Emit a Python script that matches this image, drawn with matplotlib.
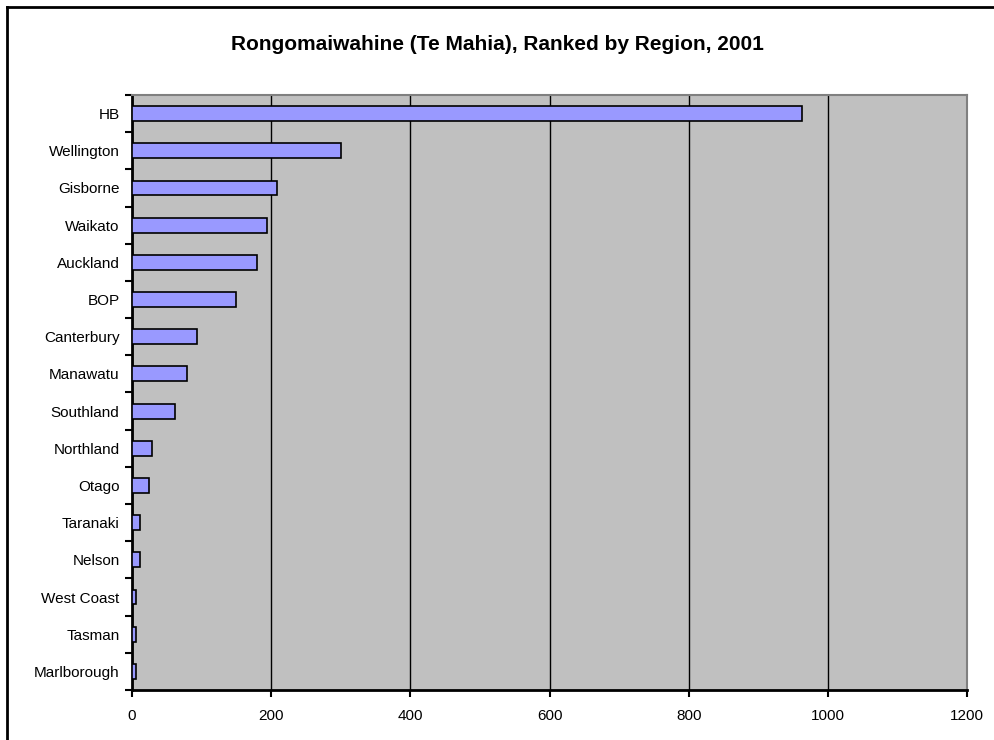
import matplotlib.pyplot as plt
from matplotlib.lines import Line2D

# Data
regions = ['HB', 'Wellington', 'Gisborne', 'Waikato', 'Auckland', 'BOP',
           'Canterbury', 'Manawatu', 'Southland', 'Northland', 'Otago',
           'Taranaki', 'Nelson', 'West Coast', 'Tasman', 'Marlborough']
counts = [963, 300, 208, 194, 180, 150, 94, 79, 62, 28, 25, 11, 11, 5, 5, 5]
x_ticks = [0, 200, 400, 600, 800, 1000, 1200]

plt.rcParams['font.family'] = ['Liberation Sans', 'DejaVu Sans']

fig = plt.figure(figsize=(9.95, 7.4), dpi=100)
ax = fig.add_axes([0.1327, 0.0676, 0.9719 - 0.1327, 0.8716 - 0.0676])

ypos = list(range(len(regions)))
ax.barh(ypos, counts, height=0.4, color='#9999FF', edgecolor='black',
        linewidth=1.2, zorder=3)

ax.set_facecolor('#C0C0C0')
ax.set_xlim(0, 1200)
ax.set_ylim(len(regions) - 0.5, -0.5)
ax.set_xticks(x_ticks)
ax.set_xticklabels([str(t) for t in x_ticks], fontsize=11)
ax.set_yticks(ypos)
ax.set_yticklabels(regions, fontsize=11)
ax.set_yticks([i - 0.5 for i in range(len(regions) + 1)], minor=True)
ax.tick_params(axis='y', which='major', length=0, pad=9)
ax.tick_params(axis='y', which='minor', length=5, width=1.5, direction='out')
ax.tick_params(axis='x', length=5, width=1.5, direction='out', pad=9)

ax.xaxis.grid(True, color='black', linewidth=1)
ax.set_axisbelow(True)

for side in ['left', 'bottom']:
    ax.spines[side].set_linewidth(2)
    ax.spines[side].set_color('black')
for side in ['top', 'right']:
    ax.spines[side].set_linewidth(1.5)
    ax.spines[side].set_color('#808080')

fig.text(0.5, 1 - 45 / 740, 'Rongomaiwahine (Te Mahia), Ranked by Region, 2001',
         ha='center', va='center', fontsize=15, fontweight='bold')

# outer chart border (left and top visible)
fig.add_artist(Line2D([7 / 995, 7 / 995], [0, 1 - 7 / 740], color='black',
                      linewidth=2, transform=fig.transFigure))
fig.add_artist(Line2D([7 / 995, 1], [1 - 7 / 740, 1 - 7 / 740], color='black',
                      linewidth=2, transform=fig.transFigure))

plt.savefig('out.png', dpi=100)
